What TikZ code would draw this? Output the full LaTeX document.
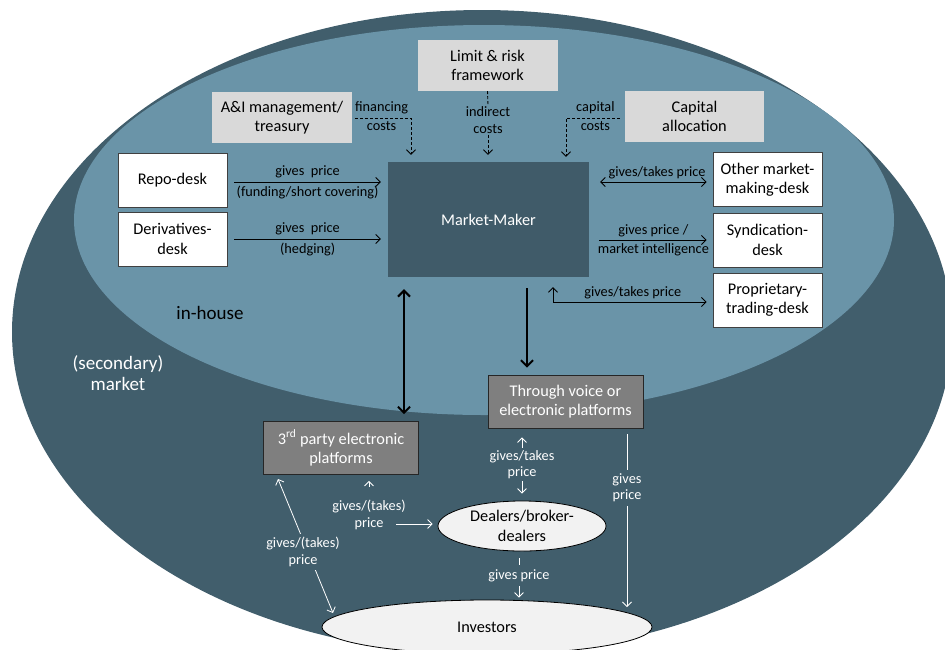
\documentclass[tikz,border=0pt]{standalone}
\usepackage{fontspec}
\setmainfont{Carlito}
\usetikzlibrary{arrows.meta,shapes.geometric}
\definecolor{outerc}{RGB}{65,94,108}
\definecolor{innerc}{RGB}{106,148,168}
\definecolor{mmc}{RGB}{64,91,105}
\definecolor{lgray}{RGB}{217,217,217}
\definecolor{dgray}{RGB}{127,127,127}
\definecolor{ellc}{RGB}{242,242,242}
\tikzset{
  mybarb/.tip={Straight Barb[length=4.5pt,width=9pt]},
  bigbarb/.tip={Straight Barb[length=6pt,width=12pt]},
}
\begin{document}
\begin{tikzpicture}[x=1pt,y=-1pt,
  nodefont/.style={font=\fontsize{16.3}{19.5}\selectfont},
  lblfont/.style={font=\fontsize{14.3}{16.5}\selectfont},
  wbox/.style={nodefont, draw=black!75, fill=white, line width=0.8pt, minimum width=109pt, minimum height=54pt, align=center, inner sep=1pt},
  gbox/.style={nodefont, fill=lgray, align=center, inner sep=1pt},
  pbox/.style={nodefont, draw=black!85, fill=dgray, text=white, line width=0.8pt, align=center, minimum width=155pt, minimum height=53pt, inner sep=1pt},
  mmbox/.style={nodefont, fill=mmc, text=white, minimum width=201pt, minimum height=115pt, inner sep=1pt},
  ell/.style={ellipse, nodefont, draw=black, fill=ellc, line width=0.8pt, align=center, inner sep=0pt},
  lbl/.style={lblfont, align=center, inner sep=1pt},
  wlbl/.style={lbl, text=white},
  arr/.style={line width=0.9pt, -mybarb},
  arrboth/.style={line width=0.9pt, mybarb-mybarb},
  darr/.style={line width=0.9pt, dash pattern=on 3pt off 2pt, -mybarb},
  dline/.style={line width=0.9pt, dash pattern=on 3pt off 2pt},
  tharr/.style={line width=2pt, -bigbarb},
  tharrboth/.style={line width=2pt, bigbarb-bigbarb},
  warr/.style={draw=white, line width=0.8pt, -mybarb},
  warrboth/.style={draw=white, line width=0.8pt, mybarb-mybarb},
  bigtext/.style={font=\fontsize{19}{21}\selectfont, align=center},
]
\useasboundingbox (0,0) rectangle (945,649);
\clip (0,0) rectangle (945,649);

% outer (secondary market) area and inner (in-house) area
\fill[outerc] (482,332) ellipse [x radius=470, y radius=322];
\fill[innerc] (484,220) ellipse [x radius=410, y radius=195];

% nodes
\node[gbox, minimum width=140pt, minimum height=51pt] (limit) at (487.5,65.5) {Limit \& risk\\framework};
\node[gbox, minimum width=140pt, minimum height=51pt] (ail) at (282,117.5) {A\&I management/\\treasury};
\node[gbox, minimum width=139pt, minimum height=51pt] (capital) at (694.5,116.5) {Capital\\allocation};
\node[wbox] (repo) at (172.5,180) {Repo-desk};
\node[wbox] (deriv) at (172.5,239) {Derivatives-\\desk};
\node[mmbox] (mm) at (488.5,219.5) {Market-Maker};
\node[wbox] (other) at (767.5,179.5) {Other market-\\making-desk};
\node[wbox] (synd) at (767.5,240) {Syndication-\\desk};
\node[wbox] (prop) at (767.5,300) {Proprietary-\\trading-desk};
\node[pbox] (voice) at (565.5,401.5) {Through voice or\\electronic platforms};
\node[pbox] (third) at (341,448) {3\textsuperscript{rd} party electronic\\platforms};
\node[ell, minimum width=168pt, minimum height=50pt] (dealers) at (522,526) {Dealers/broker-\\dealers};
\node[ell, minimum width=330pt, minimum height=54pt] (investors) at (487,627) {Investors};

\node[bigtext] (inhouse) at (210,313) {in-house};
\node[bigtext, text=white] (secm) at (118,373) {(secondary)\\market};

% desks to market maker
\draw[arr, shorten <=7pt, shorten >=7pt] ([yshift=-2pt]repo.east) -- ([yshift=-2pt]repo.east -| mm.west)
  node[lbl, midway, above=2.5pt] {gives~ price} node[lbl, midway, below=2.5pt] {(funding/short covering)};
\draw[arr, shorten <=7pt, shorten >=7pt] (deriv.east) -- (deriv.east -| mm.west)
  node[lbl, midway, above=2.5pt] {gives~ price} node[lbl, midway, below=2.5pt] {(hedging)};
\draw[arrboth, shorten <=11pt, shorten >=6pt] ([yshift=-2.5pt]other.west -| mm.east) -- ([yshift=-2.5pt]other.west)
  node[lbl, pos=0.55, above=1.5pt] {gives/takes price};
\draw[arr, shorten <=10pt, shorten >=6pt] (synd.west -| mm.east) -- (synd.west)
  node[lbl, pos=0.52, above=2pt] {gives price /} node[lbl, pos=0.52, below=2pt] {market intelligence};
\coordinate (pc) at (553,302);
\draw[arrboth, shorten <=10pt, shorten >=6pt] (pc |- mm.south) -- (pc) -- (pc -| prop.west)
  node[lbl, midway, above=1.5pt] {gives/takes price};

% costs
\coordinate (fc) at (411,118);
\draw[darr, shorten <=3pt, shorten >=7pt] (ail.east |- fc) -- node[lbl, above=2.5pt] {financing} node[lbl, below=2.5pt] {costs} (fc) -- (fc |- mm.north);
\node[lbl, font=\fontsize{14.3}{17.5}\selectfont] (ind) at (488,120) {indirect\\costs};
\draw[dline] (limit.south) -- (ind.north);
\draw[darr, shorten >=7pt] (ind.south) -- (ind.south |- mm.north);
\coordinate (cc) at (566,118);
\draw[darr, shorten <=5pt, shorten >=5pt] (capital.west |- cc) -- node[lbl, above=2.5pt] {capital} node[lbl, below=2.5pt] {costs} (cc) -- (cc |- mm.north);

% thick arrows
\coordinate (tx) at (404,350);
\draw[tharrboth, shorten <=12pt, shorten >=7pt] (tx |- mm.south) -- (tx |- third.north);
\coordinate (vx) at (527,350);
\draw[tharr, shorten <=11pt, shorten >=7pt] (vx |- mm.south) -- (vx |- voice.north);

% secondary market flows
\draw[warrboth, shorten <=9pt, shorten >=7pt] (dealers.north |- voice.south) -- (dealers.north)
  node[wlbl, midway, fill=outerc, inner sep=2.5pt] {gives/takes\\price};
\coordinate (gx) at (627,607);
\draw[warr, shorten <=6pt] (voice.south -| gx) -- (gx)
  node[wlbl, pos=0.332, fill=outerc, inner sep=3.5pt] {gives\\price};
\node[wlbl] (tdl) at (369,515) {gives/(takes)\\price};
\draw[warr, shorten <=12pt, shorten >=6pt] (tdl.north) -- (tdl.north |- third.south);
\coordinate (pr) at (396,524);
\draw[warr, shorten >=5pt] (pr) -- (pr -| dealers.west);
\coordinate (t1) at (278,479);
\coordinate (t2) at (333,613);
\draw[warrboth] (t1) -- (t2) node[wlbl, pos=0.545, xshift=-5pt, fill=outerc, inner sep=3.5pt] {gives/(takes)\\price};
\draw[warr, shorten <=7pt, shorten >=2pt] ([xshift=-3pt]dealers.south) -- ([xshift=-3pt]dealers.south |- investors.north)
  node[wlbl, midway, fill=outerc, inner sep=4pt] {gives price};
\end{tikzpicture}
\end{document}
